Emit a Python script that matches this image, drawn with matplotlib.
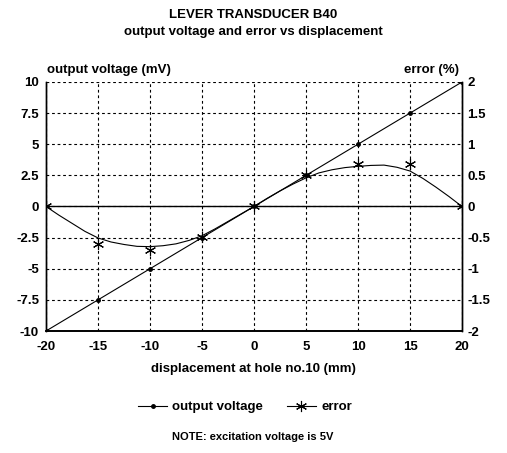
import numpy as np
import matplotlib
matplotlib.use("Agg")
import matplotlib.pyplot as plt
from matplotlib.lines import Line2D

plt.rcParams['font.family'] = ['Liberation Sans', 'DejaVu Sans']
plt.rcParams['font.weight'] = 'bold'

displacement = [-20, -15, -10, -5, 0, 5, 10, 15, 20]
output_voltage = [-10, -7.5, -5, -2.5, 0, 2.5, 5, 7.5, 10]
error_pct = [0, -0.60, -0.70, -0.49, 0, 0.5, 0.69, 0.69, 0]

# trend curve of the error
curve_x = [-20, -18.75, -17.5, -16.25, -15, -13.75, -12.5, -11.25, -10, -8.75, -7.5,
           -6.25, -5, -3.75, -2.5, -1.25, 0, 1.25, 2.5, 3.75, 5, 6.25, 7.5, 8.75,
           10, 11.25, 12.5, 13.75, 15, 16.25, 17.5, 18.75, 20]
curve_y = [0, -0.14, -0.27, -0.40, -0.505, -0.57, -0.61, -0.64, -0.645, -0.63, -0.60,
           -0.545, -0.47, -0.36, -0.24, -0.12, 0, 0.13, 0.25, 0.36, 0.46, 0.54, 0.59, 0.625,
           0.645, 0.66, 0.665, 0.63, 0.57, 0.45, 0.31, 0.16, 0]

x_ticks = [-20, -15, -10, -5, 0, 5, 10, 15, 20]
left_ticks = [-10, -7.5, -5, -2.5, 0, 2.5, 5, 7.5, 10]
left_labels = ['-10', '-7.5', '-5', '-2.5', '0', '2.5', '5', '7.5', '10']
right_ticks = [-2, -1.5, -1, -0.5, 0, 0.5, 1, 1.5, 2]
right_labels = ['-2', '-1.5', '-1', '-0.5', '0', '0.5', '1', '1.5', '2']

fig = plt.figure(figsize=(5.07, 4.53), dpi=100)
ax = fig.add_axes([46/507, 1-331/453, 416/507, 249/453])
ax2 = ax.twinx()

fs = 9.5
ax.set_xlim(-20, 20)
ax.set_ylim(-10, 10)
ax2.set_ylim(-2, 2)

ax.grid(True, color='black', linestyle=(0, (2.5, 2.5)), linewidth=0.8)
ax.set_xticks(x_ticks)
ax.set_xticklabels([str(v) for v in x_ticks], fontsize=fs, fontweight='bold')
ax.set_yticks(left_ticks)
ax.set_yticklabels(left_labels, fontsize=fs, fontweight='bold')
ax2.set_yticks(right_ticks)
ax2.set_yticklabels(right_labels, fontsize=fs, fontweight='bold')
ax.tick_params(axis='x', length=0, pad=7)
ax.tick_params(axis='y', length=0, pad=5)
ax2.tick_params(axis='y', length=0, pad=4)
for a in (ax, ax2):
    a.spines['top'].set_visible(False)
    a.spines['left'].set_linewidth(1.0)
    a.spines['right'].set_linewidth(1.0)
    a.spines['bottom'].set_linewidth(1.2)

ax.axhline(0, color='black', linewidth=1.0)

ax.plot(displacement, output_voltage, color='black', linewidth=0.8,
        marker='o', markersize=2.5)

ax2.plot(curve_x, curve_y, color='black', linewidth=0.8)
ax2.plot(displacement, error_pct, linestyle='none', color='black',
         marker=(6, 2, 0), markersize=8, markeredgewidth=0.8)

fig.text(253/507, 1-15/453, 'LEVER TRANSDUCER B40', ha='center', va='center',
         fontsize=fs, fontweight='bold')
fig.text(253/507, 1-32/453, 'output voltage and error vs displacement', ha='center',
         va='center', fontsize=fs, fontweight='bold')
fig.text(47/507, 1-70/453, 'output voltage (mV)', ha='left', va='center',
         fontsize=fs, fontweight='bold')
fig.text(459/507, 1-70/453, 'error (%)', ha='right', va='center',
         fontsize=fs, fontweight='bold')
fig.text(253/507, 1-369/453, 'displacement at hole no.10 (mm)', ha='center',
         va='center', fontsize=fs, fontweight='bold')
fig.text(253/507, 1-437/453, 'NOTE: excitation voltage is 5V', ha='center',
         va='center', fontsize=8, fontweight='bold')

h1 = Line2D([], [], color='black', linewidth=0.8, marker='o', markersize=2.5)
h2 = Line2D([], [], color='black', linewidth=0.8, marker=(6, 2, 0), markersize=8,
            markeredgewidth=0.8)
fig.legend([h1, h2], ['output voltage', 'error'], loc='center',
           bbox_to_anchor=(245/507, 1-407/453), ncol=2, frameon=False,
           handlelength=2.2, columnspacing=1.8, handletextpad=0.4,
           prop={'weight': 'bold', 'size': fs})

fig.savefig('out.png', dpi=100)
